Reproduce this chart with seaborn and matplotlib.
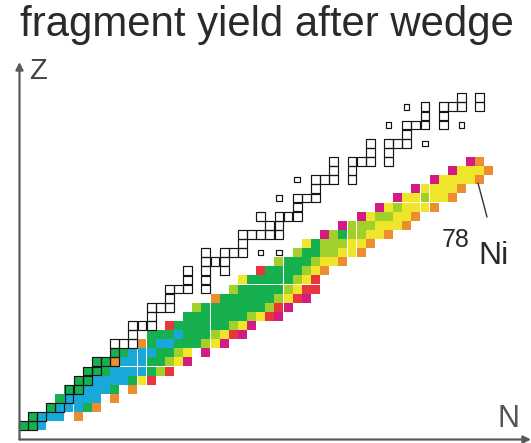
import matplotlib
matplotlib.use("Agg")
import matplotlib.pyplot as plt
import seaborn as sns
import pandas as pd

# ---------------- data ----------------
# colour level codes for the yield (high -> low)
level_names = {"C": "cyan", "G": "green", "L": "lime", "Y": "yellow",
               "O": "orange", "R": "red", "M": "magenta"}
level_colors = {"cyan": "#19a9d9", "green": "#17b04f", "lime": "#a2d02b",
                "yellow": "#efe52b", "orange": "#ee8c30", "red": "#e8363c",
                "magenta": "#d41b84"}

# fragment yield rows: proton number Z, first neutron number N, level codes ('.' = empty)
yield_Z = list(range(1, 31))
yield_N0 = [0, 1, 3, 4, 5, 6, 7, 8, 10, 13, 14, 16, 18, 19, 21, 23, 24, 26, 28, 30,
            31, 33, 35, 37, 39, 41, 43, 45, 47, 49]
yield_codes = [
    "GGC", "GCCC.O", "GCCCGO", "GCCCC.O", "GGCCCG.O", "GGCCCCGYR", "GGGCCCCGLR",
    "GGOCCCGGLYM", "GGCCCGGLY.M", "OGCCGGGLYM", "GGGCGGGLYRM", "RGGGGGGLYM",
    "GGGGGGGLYRM", "LGGGGGGGLRM", "OGGGGGGLYRM", "LGGGGGLYRR", "YGGGGGLYR",
    "RGGGGLYO", "LGGGLYYO", "LGGLLYYO", "YGLLLYYO", "MLGLLYYO", "MLLLYYYO",
    "MYLLYYO", "MYLYYYO", "MYYLYYO", "MYYYYO", "MYYYYO", "MYYYO", "MO",
]

# stable nuclides (open squares): Z -> list of N
stable_Z = list(range(1, 38))
stable_N = [
    [0, 1], [1, 2], [3, 4], [5], [5, 6], [6, 7], [7, 8], [8, 9, 10], [10],
    [10, 11, 12], [12], [12, 13, 14], [14], [14, 15, 16], [16], [16, 17, 18, 20],
    [18, 20], [18, 20, 22], [20, 21, 22], [20, 22, 23, 24], [24],
    [24, 25, 26, 27, 28], [27, 28], [26, 28, 29, 30], [30], [28, 30, 31, 32], [32],
    [30, 32, 33, 34, 36], [34, 36], [34, 36, 37, 38, 40], [38, 40],
    [38, 40, 41, 42, 44], [42], [40, 42, 43, 44, 46, 48], [44, 46], [42, 44, 46, 47, 48, 50], [48, 50],
]
# nuclides drawn as small squares
small_N = [26, 28, 28, 30, 44, 40, 42, 48]
small_Z = [20, 20, 26, 28, 32, 34, 36, 34]

# ---------------- tables ----------------
rows = []
for z, n0, codes in zip(yield_Z, yield_N0, yield_codes):
    for k, c in enumerate(codes):
        if c != ".":
            rows.append({"N": n0 + k, "Z": z, "level": level_names[c]})
cells = pd.DataFrame(rows)

small_set = set(zip(small_N, small_Z))
stab = pd.DataFrame([{"N": n, "Z": z} for z, ns in zip(stable_Z, stable_N)
                     for n in ns if (n, z) not in small_set])
small = pd.DataFrame({"N": small_N, "Z": small_Z})

# ---------------- figure ----------------
W, H, DPI = 531, 443, 100
fig = plt.figure(figsize=(W / DPI, H / DPI), dpi=DPI)
sns.set_style("white")
ax = fig.add_axes([0, 0, 1, 1])
# pixel mapping: x = 23.3 + 9.13 N ; y(top) = 434.8 - 9.11 Z
px, pz = 9.13, 9.11
ax.set_xlim(-23.3 / px, (W - 23.3) / px)
ax.set_ylim((434.8 - H) / pz, 434.8 / pz)
ax.axis("off")

cell_pt = px * 72 / DPI
sns.scatterplot(data=cells, x="N", y="Z", hue="level", palette=level_colors,
                marker="s", s=(cell_pt * 0.98) ** 2, linewidth=0, legend=False, ax=ax)
sns.scatterplot(data=stab, x="N", y="Z", marker="s", s=(cell_pt * 0.97) ** 2,
                facecolor="none", edgecolor="#151515", linewidth=0.85, legend=False, ax=ax)
sns.scatterplot(data=small, x="N", y="Z", marker="s", s=(cell_pt * 0.6) ** 2,
                facecolor="none", edgecolor="#151515", linewidth=0.85, legend=False, ax=ax)

def d(xp, yp):
    return ((xp - 23.3) / px, (434.8 - yp) / pz)

axis_col = "#5a5a5a"
ax.annotate("", xy=d(19.5, 62), xytext=d(19.5, 439.5),
            arrowprops=dict(arrowstyle="-|>", lw=1.6, color=axis_col, mutation_scale=11,
                            shrinkA=0, shrinkB=0))
ax.annotate("", xy=d(531, 439.5), xytext=d(19.5, 439.5),
            arrowprops=dict(arrowstyle="-|>", lw=1.6, color=axis_col, mutation_scale=11,
                            shrinkA=0, shrinkB=0))

font = ["Liberation Sans", "DejaVu Sans"]
tc = "#2a2a2a"
fig.text(266.5 / W, 1 - 36 / H, "fragment yield after wedge", ha="center", va="baseline",
         fontsize=30.2, family=font, color=tc)
fig.text(29 / W, 1 - 79 / H, "Z", ha="left", va="baseline", fontsize=21, family=font, color="#444444")
fig.text(497 / W, 1 - 427 / H, "N", ha="left", va="baseline", fontsize=22, family=font, color="#555555")
fig.text(442 / W, 1 - 247 / H, "78", ha="left", va="baseline", fontsize=18, family=font, color=tc)
fig.text(478 / W, 1 - 264 / H, "Ni", ha="left", va="baseline", fontsize=23, family=font, color=tc)
ax.plot(*zip(d(478, 183), d(487, 217)), color="#333333", lw=1.0)

fig.savefig("out.png", dpi=DPI)
